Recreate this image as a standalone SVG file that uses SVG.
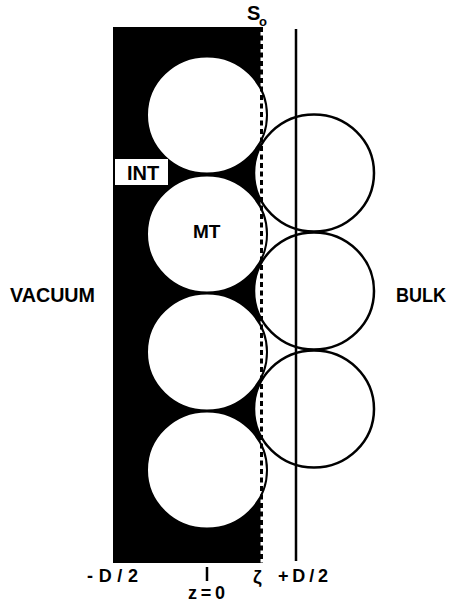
<svg xmlns="http://www.w3.org/2000/svg" width="451" height="603" viewBox="0 0 451 603">
  <style>
    .lbl { font-family: "Liberation Sans", Arial, sans-serif; font-weight: bold; fill: #000; }
    .mt { fill: #fff; stroke: #000; stroke-width: 2; }
    .bulk { fill: #fff; stroke: #000; stroke-width: 2.5; }
    .line { stroke: #000; stroke-width: 2.5; fill: none; }
    .surface { stroke: #000; stroke-width: 3; stroke-dasharray: 5 3.5; fill: none; }
  </style>
  <rect width="451" height="603" fill="#fff"/>

  <!-- interface layer (filled slab) -->
  <g id="interface-layer">
    <rect x="113" y="27" width="147.5" height="536" fill="#000"/>
  </g>

  <!-- spheres of the interface layer -->
  <g id="mt-sphere-1"><ellipse class="mt" cx="207" cy="115" rx="60" ry="58.5"/></g>
  <g id="mt-sphere-2"><ellipse class="mt" cx="207" cy="234" rx="60" ry="58.5"/>
    <text class="lbl" x="193" y="238" font-size="19">MT</text></g>
  <g id="mt-sphere-3"><ellipse class="mt" cx="207" cy="352" rx="60" ry="58.5"/></g>
  <g id="mt-sphere-4"><ellipse class="mt" cx="207" cy="470" rx="60" ry="58.5"/></g>

  <!-- bulk spheres -->
  <g id="bulk-sphere-1"><ellipse class="bulk" cx="314" cy="173" rx="60" ry="58.5"/></g>
  <g id="bulk-sphere-2"><ellipse class="bulk" cx="314" cy="291" rx="60" ry="58.5"/></g>
  <g id="bulk-sphere-3"><ellipse class="bulk" cx="314" cy="409" rx="60" ry="58.5"/></g>

  <g id="connectors">
    <!-- +D/2 plane -->
    <line class="line" x1="296" y1="29" x2="296" y2="561"/>
    <!-- dividing surface S0 at z = zeta -->
    <line class="surface" x1="261.5" y1="27" x2="261.5" y2="563"/>
    <!-- z = 0 tick -->
    <line class="line" x1="207" y1="567" x2="207" y2="581"/>
  </g>

  <g id="int-label">
    <rect x="115" y="159" width="53" height="26" fill="#fff"/>
    <text class="lbl" x="127" y="180" font-size="20">INT</text>
  </g>

  <g id="surface-label">
    <text class="lbl" x="247" y="20" font-size="20" font-weight="normal">S</text>
    <text class="lbl" x="259" y="26" font-size="13">o</text>
  </g>

  <g id="region-labels">
    <text class="lbl" x="10" y="302" font-size="20" textLength="85" lengthAdjust="spacingAndGlyphs">VACUUM</text>
    <text class="lbl" x="396" y="302" font-size="20" textLength="50" lengthAdjust="spacingAndGlyphs">BULK</text>
  </g>

  <g id="axis-labels">
    <text class="lbl" x="87" y="582" font-size="18" textLength="51">-D/2</text>
    <text class="lbl" x="188" y="599" font-size="18" textLength="37">z=0</text>
    <text class="lbl" x="253" y="583" font-size="19" font-weight="normal">ζ</text>
    <text class="lbl" x="278" y="582" font-size="18" textLength="50">+D/2</text>
  </g>
</svg>
